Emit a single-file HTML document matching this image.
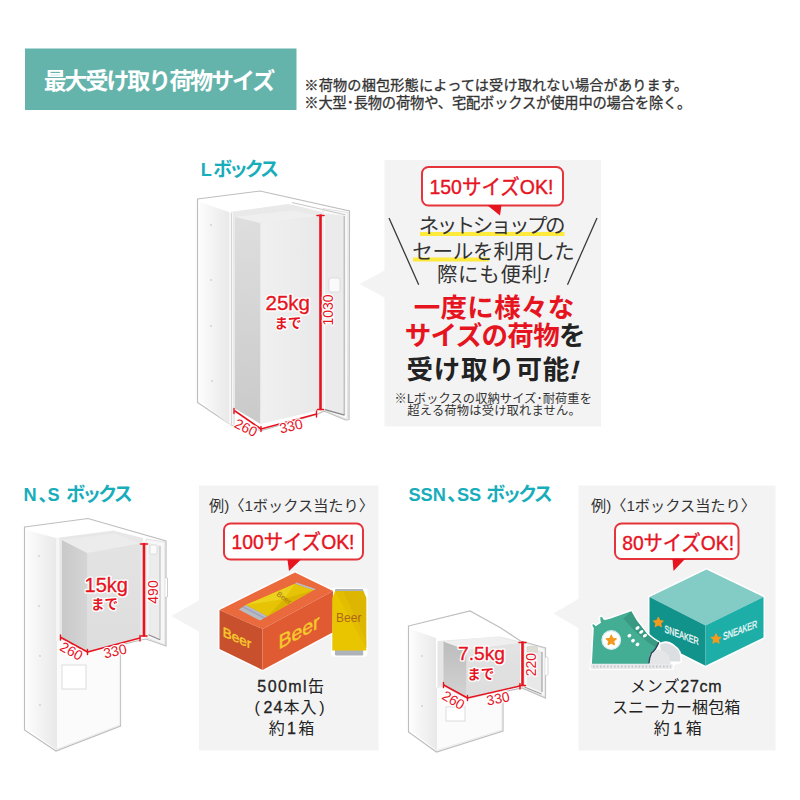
<!DOCTYPE html>
<html lang="ja">
<head>
<meta charset="utf-8">
<title>最大受け取り荷物サイズ</title>
<style>
html,body{margin:0;padding:0;background:#fff;}
body{width:800px;height:800px;position:relative;overflow:hidden;font-family:"Liberation Sans","Noto Sans CJK JP",sans-serif;color:#333;}
#art{position:absolute;left:0;top:0;width:800px;height:800px;display:block;}
#art text{font-family:"Liberation Sans","Noto Sans CJK JP",sans-serif;}
.kgh{fill:#fff;stroke:#fff;stroke-width:3.200px;stroke-linejoin:round;text-anchor:middle;}
.kg{fill:#e6141f;stroke:#e6141f;stroke-width:0.350px;stroke-linejoin:round;text-anchor:middle;}
.dimh{fill:#fff;stroke:#fff;stroke-width:2.400px;stroke-linejoin:round;text-anchor:middle;}
.dim{fill:#e6141f;text-anchor:middle;}
.beer{fill:#f6c92c;stroke:#f6c92c;stroke-width:0.450px;text-anchor:middle;}
.snk{fill:#fff;font-weight:normal;font-size:10.500px;opacity:0.950;stroke:#fff;stroke-width:0.300px;}
</style>
</head>
<body>
<svg id="art" width="800" height="800" viewBox="0 0 800 800">
<defs>
<linearGradient id="gl" x1="0" y1="0" x2="1" y2="0"><stop offset="0" stop-color="#fcfcfc"/><stop offset="1" stop-color="#e9e9e9"/></linearGradient>
<linearGradient id="gp" x1="0" y1="0" x2="1" y2="0"><stop offset="0" stop-color="#d0d0d0"/><stop offset="1" stop-color="#dcdcdc"/></linearGradient>
<linearGradient id="gs" x1="0" y1="0" x2="0" y2="1"><stop offset="0" stop-color="#bcbcbc"/><stop offset="1" stop-color="#d3d3d3"/></linearGradient>
<linearGradient id="gpl" x1="0" y1="0" x2="0" y2="1"><stop offset="0" stop-color="#dedede"/><stop offset="1" stop-color="#cacaca"/></linearGradient>
<linearGradient id="gfl" x1="0" y1="0" x2="1" y2="0"><stop offset="0" stop-color="#f0f0f0"/><stop offset="1" stop-color="#e9e9e9"/></linearGradient>
<linearGradient id="gp2" x1="0" y1="0" x2="1" y2="0"><stop offset="0" stop-color="#c9c9c9"/><stop offset="1" stop-color="#d5d5d5"/></linearGradient>
<linearGradient id="gf2" x1="0" y1="0" x2="0" y2="1"><stop offset="0" stop-color="#e3e3e3"/><stop offset="1" stop-color="#dddddd"/></linearGradient>
<linearGradient id="gf" x1="0" y1="0" x2="0" y2="1"><stop offset="0" stop-color="#e9e9e9"/><stop offset="1" stop-color="#e3e3e3"/></linearGradient>
</defs>

<!-- header -->
<rect x="25" y="48.500" width="271.500" height="61.500" fill="#65b4ac"/>

<!-- panels -->
<g fill="#f3f3f3">
<rect x="384.500" y="160" width="216.500" height="266.500"/>
<polygon points="385.500,270 359.500,284 385.500,298"/>
<rect x="199" y="485.500" width="179.500" height="265"/>
<polygon points="199.500,600 171.500,616 199.500,632"/>
<rect x="578.500" y="485.500" width="197" height="265"/>
<polygon points="579,598.500 553.500,613.500 579,628.500"/>
</g>

<!-- ===== L locker ===== -->
<g id="lockerL">
<path d="M197.500 199 L260 191 L349.500 211 L349 419.500 L345.500 420 L324 411 L318 414 L262 430.500 L236 426 L231 425 L197.500 402.500 Z" fill="#fff" stroke="#bebebe" stroke-width="1.200"/>
<polygon points="199.500,202 229,212 229,424.500 199.500,400.500" fill="url(#gl)"/>
<polygon points="229.500,212 288,204 296,205.500 322,212 322,410 235,410 235,425 229.500,425" fill="#e9e9e9"/>
<polygon points="229.500,212 233,212.500 233,425 229.500,425" fill="#f6f6f6"/>
<path d="M231.500 213 V425" stroke="#cdcdcd" stroke-width="0.800"/>
<!-- parcel -->
<polygon points="235,217 260.500,223 260.500,424 235,408.500" fill="url(#gpl)"/>
<polygon points="235,217 261,223 318,216 292,210.500" fill="#efefef"/>
<polygon points="260.500,223 318,216 318,410.500 260.500,424" fill="url(#gfl)"/>
<!-- door -->
<polygon points="323,208.500 348,212.500 347.500,418 345,418.500 323,410" fill="#fafafa" stroke="#d0d0d0" stroke-width="0.600"/>
<polygon points="325,213.500 344.300,215.500 344.300,415 325,409.500" fill="#ebebeb"/>
<path d="M344.300 216 V415" stroke="#c2c2c2" stroke-width="1.600"/>
<path d="M325 409.700 L344.500 415.200" stroke="#858585" stroke-width="1.300"/>
<rect x="329" y="278" width="11" height="14" rx="2" fill="#fafafa" stroke="#d2d2d2" stroke-width="0.700"/>
<path d="M292 202.500 L345.500 214.800" stroke="#c6c6c6" stroke-width="1" fill="none"/>
<g fill="#cfcfcf"><circle cx="211" cy="225" r="0.900"/><circle cx="211" cy="280" r="0.900"/><circle cx="211" cy="326" r="0.900"/><circle cx="212" cy="381" r="0.900"/></g>
<!-- red dims -->
<g stroke="#e6141f" fill="none" stroke-linecap="round">
<path d="M320.500 215.500 V409" stroke-width="2.600"/>
<path d="M317 215.500 H324 M317.500 409.500 H323.500" stroke-width="1.600"/>
<path d="M235 411 L261 429 L316.500 414" stroke-width="1.600" stroke-linejoin="round"/>
<path d="M234 408.500 V413.500 M316.500 411 V417 M261 426.500 V431.500" stroke-width="1.400"/>
</g>
</g>

<!-- ===== N,S locker ===== -->
<g id="lockerNS">
<path d="M24.500 527 L88 518.500 L166 541 L166 646 L146 639 L141 640 L120.500 645 L120.500 726 L56 751 L24.500 730 Z" fill="#fff" stroke="#bebebe" stroke-width="1.200"/>
<polygon points="26.500,530 56,538 56,749.500 26.500,728.500" fill="url(#gl)"/>
<polygon points="56.500,538 113,530.500 143,538 143,636 120,640 88,652 61,638 56.500,640" fill="#e7e7e7"/>
<polygon points="56.500,538 59.500,538.500 59.500,639 56.500,640" fill="#f6f6f6"/>
<!-- lower front -->
<polygon points="56.500,641 61,639 88,653 120,641 120,725 56.500,749.500" fill="#fbfbfb" stroke="#dcdcdc" stroke-width="0.600"/>
<rect x="62" y="665" width="24" height="24" fill="#fff" stroke="#d4d4d4" stroke-width="0.800"/>
<!-- parcel -->
<polygon points="62,540 87.500,553 87.500,652 62,637.500" fill="url(#gp2)"/>
<polygon points="62,540 87.500,553 140,543.500 115,533.500" fill="#ececec"/>
<polygon points="87.500,553 140,543.500 140,637.500 87.500,652" fill="url(#gf2)"/>
<rect x="163" y="577.500" width="4.500" height="20" rx="1.500" fill="#fff" stroke="#c0c0c0" stroke-width="0.800"/>
<!-- door -->
<polygon points="146,539 165,542 165,645 146,637.500" fill="#f7f7f7" stroke="#d0d0d0" stroke-width="0.600"/>
<polygon points="148.500,543.500 160,545.500 160,639.500 148.500,634.500" fill="#ececec"/>
<path d="M160 546 V639.500" stroke="#c6c6c6" stroke-width="1.300"/>
<path d="M148.500 634.700 L160 639.700" stroke="#8a8a8a" stroke-width="1.100"/>
<rect x="150" y="545" width="7" height="9" rx="1.500" fill="#fafafa" stroke="#d2d2d2" stroke-width="0.600"/>
<g fill="#cfcfcf"><circle cx="39" cy="556" r="0.900"/><circle cx="39" cy="606" r="0.900"/><circle cx="40" cy="656" r="0.900"/><circle cx="40" cy="705" r="0.900"/></g>
<g stroke="#e6141f" fill="none" stroke-linecap="round">
<path d="M144 544 V635.500" stroke-width="2.600"/>
<path d="M140.500 544 H147.500 M141 636 H147" stroke-width="1.600"/>
<path d="M61 637.500 L87.500 652 L140 638" stroke-width="1.600" stroke-linejoin="round"/>
<path d="M60.500 635 V640 M140 635.500 V641 M87.500 649.500 V654.500" stroke-width="1.400"/>
</g>
</g>

<!-- ===== SSN,SS locker ===== -->
<g id="lockerSS">
<path d="M408.500 626 L470 611 L500 627.500 L520.500 641 L545.500 648 L545.500 698 L522 688 L503 692 L503 731 L436.500 752 L408.500 732 Z" fill="#fff" stroke="#bebebe" stroke-width="1.200"/>
<polygon points="410.500,629 436,638 436,750 410.500,730.500" fill="url(#gl)"/>
<polygon points="437.500,641 500,636.500 520,641.500 520,686 502,690 467.500,698.500 443,685.500 437.500,687" fill="#e6e6e6"/>
<polygon points="436.500,688 443,686 467.500,699 502,691 502,730 436.500,750.500" fill="#fbfbfb" stroke="#dcdcdc" stroke-width="0.600"/>
<rect x="446" y="707" width="19" height="14" fill="#fff" stroke="#d4d4d4" stroke-width="0.800"/>
<rect x="544.500" y="657" width="3.500" height="18.500" rx="1.500" fill="#fff" stroke="#c6c6c6" stroke-width="0.700"/>
<!-- parcel -->
<polygon points="443.500,641.500 466.500,650 466.500,697.500 443.500,684.500" fill="url(#gs)"/>
<polygon points="443.500,641.500 466.500,650 520,643 497,636.500" fill="#efefef"/>
<polygon points="466.500,650 520,643 520,686 466.500,697.500" fill="url(#gf2)"/>
<!-- door -->
<polygon points="524,642.500 545,648.500 545,697 524,687.500" fill="#f7f7f7" stroke="#d0d0d0" stroke-width="0.600"/>
<polygon points="527,647 542,651.500 542,692.500 527,685.500" fill="#e8e8e8"/>
<rect x="527" y="646.500" width="10.500" height="6" rx="1" fill="#dddbd2" stroke="#c9c9c9" stroke-width="0.500"/>
<path d="M542 652 V692 M524.500 687 L541.500 694" stroke="#8c8c8c" stroke-width="0.900" fill="none"/>
<g fill="#cfcfcf"><circle cx="422" cy="656" r="0.900"/><circle cx="422" cy="706" r="0.900"/></g>
<g stroke="#e6141f" fill="none" stroke-linecap="round">
<path d="M522.500 642.500 V685" stroke-width="2.600"/>
<path d="M519 642.500 H526 M519.500 685.500 H525.500" stroke-width="1.600"/>
<path d="M443.750 685 L467.500 698 L520 686" stroke-width="1.600" stroke-linejoin="round"/>
<path d="M443.500 682.500 V687.500 M520 683.500 V689 M467.500 695.500 V700.500" stroke-width="1.400"/>
</g>
</g>

<!-- ===== L panel decorations ===== -->
<rect x="422" y="167" width="141" height="38.500" rx="6.500" fill="#fff" stroke="#e5343b" stroke-width="2"/>
<polygon points="487,205 501.500,205 500,215.500" fill="#e6141f"/>
<rect x="420" y="232" width="144.500" height="4" fill="#fdea3d"/>
<rect x="413" y="257.500" width="76" height="4" fill="#fdea3d"/>
<path d="M389 218 L418.700 284.700 M597 218 L567.500 284.700" stroke="#3a3a3a" stroke-width="1.300" fill="none"/>

<!-- ===== NS panel: bubble + beer ===== -->
<rect x="224" y="523.500" width="139" height="36" rx="6.500" fill="#fff" stroke="#e5343b" stroke-width="2"/>
<polygon points="287.500,559.500 301,559.500 289,571" fill="#e6141f"/>
<g id="beer">
<g fill="#fff" stroke="#fff" stroke-width="3" stroke-linejoin="round"><polygon points="219.500,610 295,572.500 333,591 332.500,632.500 262.500,670 219.500,649"/><rect x="332.500" y="589.200" width="33.500" height="66" rx="1.500"/></g>
<polygon points="219.500,610 295,572.500 333,591 262.500,629" fill="#ea693d"/>
<polygon points="219.500,610 262.500,629 262.500,670 219.500,649" fill="#c9502d"/>
<polygon points="262.500,629 333,591 332.500,632.500 262.500,670" fill="#e05b32"/>
<!-- can in window -->
<polygon points="245.600,605 295,583.750 313.750,590 267.500,616.250" fill="#e6c405"/>
<polygon points="245.600,605 295,583.750 284,599" fill="#ecd21c"/>
<polygon points="284,599 313.750,590 267.500,616.250" fill="#d9b500"/>
<polygon points="238.750,609.400 245.600,605 267.500,616.250 260,620.600" fill="#b7bbc2"/>
<polygon points="242,607.300 243.500,606.300 265.300,617.500 263.800,618.500" fill="#8f96b8" opacity="0.600"/>
<polygon points="295,583.750 296.500,582.400 315.800,589.100 313.750,590.300" fill="#b7bbc2"/>
<!-- standing can -->
<rect x="335" y="589" width="28.200" height="66.400" rx="1.200" fill="#aeb2b9"/>
<path d="M332.300 598 L335 591.200 L363.500 591.200 L366.200 598 L366.200 650.600 L332.300 650.600 Z" fill="#e9c500"/>
<path d="M335.500 591.200 L363.500 591.200 L366.200 598 L366.200 648 Z" fill="#dcb600"/>
<path d="M335.500 591.200 L343 591.200 L366.200 640 L366.200 648 Z" fill="#e2bd00"/>
<text class="beer" transform="matrix(1 0.460 0 1 237 638)" font-size="13.500" y="4.500">Beer</text>
<text class="beer" transform="matrix(1 -0.540 0 1 299 632)" font-size="19.500" y="6.500">Beer</text>
<text transform="translate(348.700 618.200)" font-size="12" y="4.200" text-anchor="middle" fill="#b0651c">Beer</text>
<text transform="translate(284 598) rotate(36)" font-size="7.500" y="2.500" text-anchor="middle" fill="#a5701a">Beer</text>
</g>

<!-- ===== SS panel: bubble + sneaker ===== -->
<rect x="615" y="523.500" width="123.500" height="35.500" rx="6.500" fill="#fff" stroke="#e5343b" stroke-width="2"/>
<polygon points="672.500,559 685,559 673.500,571" fill="#e6141f"/>
<g id="sneaker">
<g fill="#fff" stroke="#fff" stroke-width="3" stroke-linejoin="round"><polygon points="649.500,597 706.500,569.500 763.500,597 763.500,637.500 705.500,665.800 649.500,637.500"/></g>
<polygon points="649.500,597 706.500,569.500 763.500,597 705.500,625.500" fill="#83cbc5"/>
<polygon points="649.500,597 705.500,625.500 705.500,665.800 649.500,637.500" fill="#11938b"/>
<polygon points="705.500,625.500 763.500,597 763.500,637.500 705.500,665.800" fill="#1eaea8"/>
<!-- shoe -->
<path d="M591.900 664 L593.800 628 Q592 625.500 592.500 624.400 Q594.200 624 595.600 626.300 L601 622.800 Q599.800 618 600.600 616.900 Q602.400 616.600 603.700 619.800 Q606 620.200 610 618.800 L631.200 611.200 Q634 616 637 621 L647.500 634.400 Q653 639.500 658.750 642.500 L660 644.500 Q667 640.500 674 646.500 Q681 650.500 680.500 661.500 L672.500 664 L672.500 668.500 L590.500 668.500 Z" fill="#fff" stroke="#fff" stroke-width="3" stroke-linejoin="round"/>
<path d="M591.900 664 L593.800 628 Q592 625.500 592.500 624.400 Q594.200 624 595.600 626.300 L601 622.800 Q599.800 618 600.600 616.900 Q602.400 616.600 603.700 619.800 Q606 620.200 610 618.800 L631.200 611.200 Q634 616 637 621 L647.500 634.400 Q653 639.500 658.750 642.500 L649 664 Z" fill="#43ae94"/>
<path d="M623.500 618.600 L631.200 611.200 Q634 616 637 621 L647.500 634.400 Q653 639.500 658.750 642.500 L655.500 647.500 Q640 637 630.500 626.500 Z" fill="#389a82"/>
<path d="M660 644.500 Q667 640.500 674 646.500 Q681 650.500 680.500 661.500 L662 661.500 Z" fill="#dcdfe1"/>
<path d="M650 654.500 Q655 647 662.500 650.500 Q670.500 653.500 670.500 664 L648.750 664 Z" fill="#e4e6e7"/>
<path d="M658.750 642.500 Q656 649.500 651.500 653 Q649.200 658 648.900 663.500" stroke="#2d3c58" stroke-width="1.300" fill="none"/>
<rect x="590.500" y="663.800" width="82" height="5.200" rx="1.500" fill="#e9eaeb"/>
<path d="M593 666.600 H671" stroke="#c3c6ca" stroke-width="2" stroke-dasharray="1.600 1.900"/>
<circle cx="611.250" cy="640" r="9.300" fill="#fff" stroke="#d8ecf2" stroke-width="1.200"/>
<polygon stroke="#f39a1e" stroke-width="1.300" stroke-linejoin="round" transform="translate(611.250 640.300) scale(0.950)" points="0,-5.400 1.600,-2 5.300,-1.600 2.500,0.900 3.300,4.600 0,2.700 -3.300,4.600 -2.500,0.900 -5.300,-1.600 -1.600,-2" fill="#f39a1e"/>
<g fill="#fff"><ellipse transform="rotate(-35 637.500 628)" cx="637.500" cy="628" rx="2.300" ry="1.500"/><ellipse transform="rotate(-35 641.250 631.900)" cx="641.250" cy="631.900" rx="2.300" ry="1.500"/><ellipse transform="rotate(-35 645 635.600)" cx="645" cy="635.600" rx="2.300" ry="1.500"/><ellipse transform="rotate(-35 629.400 635.600)" cx="629.400" cy="635.600" rx="2" ry="1.700"/><ellipse transform="rotate(-35 633 640.600)" cx="633" cy="640.600" rx="2" ry="1.700"/><ellipse transform="rotate(-35 637.500 644.400)" cx="637.500" cy="644.400" rx="2" ry="1.700"/></g>
<!-- stars + text on box -->
<polygon stroke="#f39a1e" stroke-width="1.200" stroke-linejoin="round" transform="translate(658.300 622.400) scale(0.920)" points="0,-5.400 1.600,-2 5.300,-1.600 2.500,0.900 3.300,4.600 0,2.700 -3.300,4.600 -2.500,0.900 -5.300,-1.600 -1.600,-2" fill="#f39a1e"/>
<polygon stroke="#f39a1e" stroke-width="1.200" stroke-linejoin="round" transform="translate(716 638.800) scale(0.920)" points="0,-5.400 1.600,-2 5.300,-1.600 2.500,0.900 3.300,4.600 0,2.700 -3.300,4.600 -2.500,0.900 -5.300,-1.600 -1.600,-2" fill="#f39a1e"/>
<text class="snk" transform="matrix(0.680 0.258 0 1 664.500 632.300)">SNEAKER</text>
<text class="snk" transform="matrix(0.680 -0.258 0 1 723 640.200)">SNEAKER</text>
</g>

<!-- ===== latin text ===== -->
<text class="kgh" x="287.75" y="310.34" font-size="20.50">25kg</text>
<text class="kg" x="287.75" y="310.34" font-size="20.50">25kg</text>
<text class="kgh" x="106.25" y="591.66" font-size="20.00">15kg</text>
<text class="kg" x="106.25" y="591.66" font-size="20.00">15kg</text>
<text class="kgh" x="481.50" y="660.37" font-size="19.20">7.5kg</text>
<text class="kg" x="481.50" y="660.37" font-size="19.20">7.5kg</text>
<text class="dimh" transform="translate(246.00 427.50) rotate(27)" y="5.01" font-size="14.00">260</text>
<text class="dim" transform="translate(246.00 427.50) rotate(27)" y="5.01" font-size="14.00">260</text>
<text class="dimh" transform="translate(291.00 426.00) rotate(-13)" y="5.01" font-size="14.00">330</text>
<text class="dim" transform="translate(291.00 426.00) rotate(-13)" y="5.01" font-size="14.00">330</text>
<text class="dimh" transform="translate(328.30 310.00) rotate(-90)" y="5.01" font-size="14.00">1030</text>
<text class="dim" transform="translate(328.30 310.00) rotate(-90)" y="5.01" font-size="14.00">1030</text>
<text class="dimh" transform="translate(71.50 651.00) rotate(29)" y="5.01" font-size="14.00">260</text>
<text class="dim" transform="translate(71.50 651.00) rotate(29)" y="5.01" font-size="14.00">260</text>
<text class="dimh" transform="translate(115.00 651.00) rotate(-13)" y="5.01" font-size="14.00">330</text>
<text class="dim" transform="translate(115.00 651.00) rotate(-13)" y="5.01" font-size="14.00">330</text>
<text class="dimh" transform="translate(153.20 592.00) rotate(-90)" y="5.01" font-size="14.00">490</text>
<text class="dim" transform="translate(153.20 592.00) rotate(-90)" y="5.01" font-size="14.00">490</text>
<text class="dimh" transform="translate(453.50 700.00) rotate(30)" y="5.01" font-size="14.00">260</text>
<text class="dim" transform="translate(453.50 700.00) rotate(30)" y="5.01" font-size="14.00">260</text>
<text class="dimh" transform="translate(498.00 698.40) rotate(-11)" y="5.01" font-size="14.00">330</text>
<text class="dim" transform="translate(498.00 698.40) rotate(-11)" y="5.01" font-size="14.00">330</text>
<text class="dimh" transform="translate(530.50 664.70) rotate(-90)" y="5.01" font-size="14.00">220</text>
<text class="dim" transform="translate(530.50 664.70) rotate(-90)" y="5.01" font-size="14.00">220</text>
<!-- ===== text ===== -->
<text x="43.63" y="88.83" font-size="23" font-weight="bold" fill="#fff" textLength="231.5" lengthAdjust="spacing">最大受け取り荷物サイズ</text>
<text x="304.37" y="90.31" font-size="14.16" fill="#333" stroke="#333" stroke-width="0.3" stroke-linejoin="round" textLength="383.6" lengthAdjust="spacing">※荷物の梱包形態によっては受け取れない場合があります。</text>
<text x="304.36" y="107.85" font-size="14.26" fill="#333" stroke="#333" stroke-width="0.3" stroke-linejoin="round" textLength="387" lengthAdjust="spacing">※大型･長物の荷物や、宅配ボックスが使用中の場合を除く。</text>
<text x="200.73" y="175.57" font-size="18.2" font-weight="bold" fill="#18adbb">L</text>
<text x="213.14" y="175.88" font-size="19" font-weight="bold" fill="#18adbb" textLength="66" lengthAdjust="spacing">ボックス</text>
<text x="23.55" y="500.57" font-size="18.2" font-weight="bold" fill="#18adbb">N</text>
<text x="38.49" y="500.69" font-size="18.5" font-weight="bold" fill="#18adbb">、</text>
<text x="47.58" y="500.57" font-size="18.2" font-weight="bold" fill="#18adbb">S</text>
<text x="66.14" y="500.88" font-size="19" font-weight="bold" fill="#18adbb" textLength="66.6" lengthAdjust="spacing">ボックス</text>
<text x="408.41" y="500.57" font-size="18.2" font-weight="bold" fill="#18adbb">SSN</text>
<text x="447.08" y="501.46" font-size="20.5" font-weight="bold" fill="#18adbb">、</text>
<text x="456.88" y="500.57" font-size="18.2" font-weight="bold" fill="#18adbb">SS</text>
<text x="486.14" y="500.88" font-size="19" font-weight="bold" fill="#18adbb" textLength="66.6" lengthAdjust="spacing">ボックス</text>
<text x="429.45" y="194.07" font-size="21" fill="#e6141f" stroke="#e6141f" stroke-width="0.4" stroke-linejoin="round" textLength="124" lengthAdjust="spacingAndGlyphs">150サイズOK!</text>
<text x="418.67" y="232.69" font-size="20.5" fill="#333" textLength="146.8" lengthAdjust="spacing">ネットショップの</text>
<text x="412.30" y="259.19" font-size="20.5" fill="#333" textLength="162.4" lengthAdjust="spacing">セールを利用した</text>
<text x="436.91" y="281.69" font-size="20.5" fill="#333" textLength="105.2" lengthAdjust="spacing">際にも便利</text>
<text transform="translate(541.89 281.69) skewX(-14)" font-size="20.5" fill="#333">!</text>
<text x="413.68" y="317.44" font-size="26.5" font-weight="bold" fill="#e6141f" textLength="160.6" lengthAdjust="spacing">一度に様々な</text>
<text x="404.78" y="345.44" font-size="26.5" font-weight="bold" fill="#e6141f" textLength="180.7" lengthAdjust="spacing">サイズの荷物<tspan fill="#222">を</tspan></text>
<text x="406.41" y="378.69" font-size="26.5" font-weight="bold" fill="#222" textLength="162.8" lengthAdjust="spacing">受け取り可能</text>
<text transform="translate(568.84 378.69) skewX(-14)" font-size="26.5" font-weight="bold" fill="#222">!</text>
<text x="394.59" y="402.60" font-size="12.26" fill="#333" textLength="197.3" lengthAdjust="spacing">※Lボックスの収納サイズ･耐荷重を</text>
<text x="407.36" y="415.36" font-size="12.31" fill="#333" textLength="173.4" lengthAdjust="spacing">超える荷物は受け取れません。</text>
<text x="208.99" y="511.10" font-size="15.2" fill="#333">例)〈1ボックス当たり〉</text>
<text x="231.47" y="549.48" font-size="21" fill="#e6141f" stroke="#e6141f" stroke-width="0.4" stroke-linejoin="round" textLength="123" lengthAdjust="spacingAndGlyphs">100サイズOK!</text>
<text x="307.97" y="692.40" font-size="16" fill="#222">缶</text><text x="257.36 267.66 277.97 288.27 303.00" y="692.40" font-size="16.00" fill="#222" stroke="#222" stroke-width="0.30">500ml</text>
<text x="254.53 283.40 300.39 319.33" y="713.30" font-size="16" fill="#222">(本入)</text><text x="263.62 273.51" y="713.30" font-size="16.00" fill="#222" stroke="#222" stroke-width="0.30">24</text>
<text x="268.71 298.20" y="734.30" font-size="16" fill="#222">約箱</text><text x="287.00" y="734.30" font-size="16.00" fill="#222" stroke="#222" stroke-width="0.30">1</text>
<text x="590.99" y="511.10" font-size="15.2" fill="#333">例)〈1ボックス当たり〉</text>
<text x="622.17" y="549.67" font-size="21" fill="#e6141f" stroke="#e6141f" stroke-width="0.4" stroke-linejoin="round" textLength="111.9" lengthAdjust="spacingAndGlyphs">80サイズOK!</text>
<text x="630.09 646.81 663.53" y="692.20" font-size="16" fill="#222">メンズ</text><text x="680.26 689.88 699.50 708.23" y="692.20" font-size="16.00" fill="#222" stroke="#222" stroke-width="0.30">27cm</text>
<text x="612.06" y="713.20" font-size="16" fill="#222" textLength="128.1" lengthAdjust="spacing">スニーカー梱包箱</text>
<text x="653.81 685.81" y="734.30" font-size="16" fill="#222">約箱</text><text x="673.35" y="734.30" font-size="16.00" fill="#222" stroke="#222" stroke-width="0.30">1</text>
<text x="274.52" y="327.54" font-size="13.44" font-weight="bold" fill="#e6141f" stroke="#fff" stroke-width="2.6" stroke-linejoin="round" paint-order="stroke">まで</text>
<text x="91.02" y="609.04" font-size="13.44" font-weight="bold" fill="#e6141f" stroke="#fff" stroke-width="2.6" stroke-linejoin="round" paint-order="stroke">まで</text>
<text x="467.27" y="678.79" font-size="13.44" font-weight="bold" fill="#e6141f" stroke="#fff" stroke-width="2.6" stroke-linejoin="round" paint-order="stroke">まで</text>
</svg>
</body>
</html>
